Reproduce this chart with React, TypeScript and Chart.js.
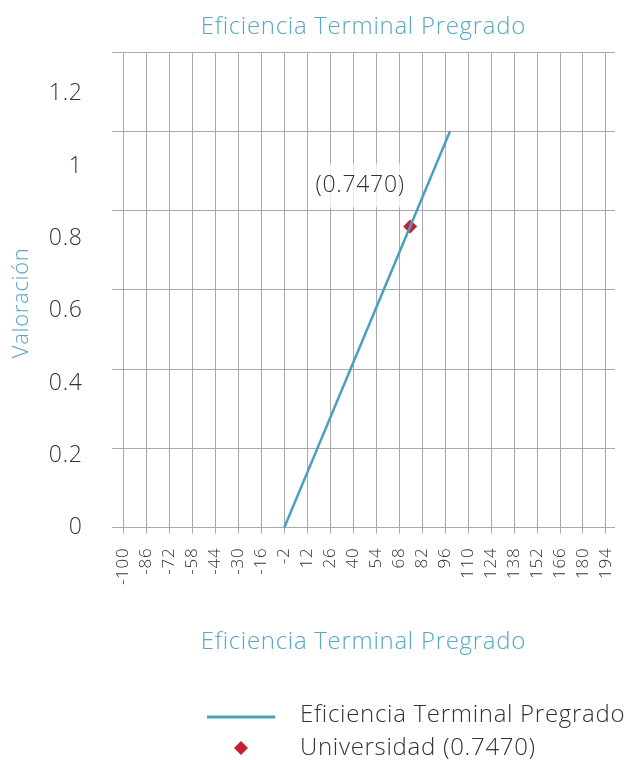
import React, { useEffect, useRef } from "react";
import { Chart, registerables } from "chart.js";

Chart.register(...registerables);

const CHART_TITLE = "Eficiencia Terminal Pregrado";
const X_TITLE = "Eficiencia Terminal Pregrado";
const Y_TITLE = "Valoración";
const X_TICKS = [-100, -86, -72, -58, -44, -30, -16, -2, 12, 26, 40, 54, 68, 82, 96, 110, 124, 138, 152, 166, 180, 194];
const Y_TICKS = [0, 0.2, 0.4, 0.6, 0.8, 1, 1.2];
const LINE_LABEL = "Eficiencia Terminal Pregrado";
const LINE_X = [-2, 99];
const LINE_Y = [0, 1];
const POINT_LABEL = "Universidad (0.7470)";
const POINT_X = [74.7];
const POINT_Y = [0.76];
const POINT_TAG = "(0.7470)";

const TEAL = "#4a9fbc";
const TITLE_TEAL = "#58a8c4";
const RED = "#c41f33";
const GRID = "#a9a9a9";
const TEXT = "#333333";
const FONT = "'Open Sans'";
const SPACING = "0.7px";

const spacingPlugin = {
  id: "spacing",
  beforeUpdate(chart: any) {
    chart.ctx.letterSpacing = SPACING;
  },
  beforeLayout(chart: any) {
    chart.ctx.letterSpacing = SPACING;
  },
  afterLayout(chart: any) {
    const s = chart.scales.yL;
    if (s) s.top += 26;
  },
  beforeDraw(chart: any) {
    chart.ctx.letterSpacing = SPACING;
  },
};

const overlayPlugin = {
  id: "overlay",
  afterDatasetsDraw(chart: any) {
    const ctx = chart.ctx;
    const meta = chart.getDatasetMeta(1);
    const pt = meta.data[0];
    if (!pt) return;
    ctx.save();
    ctx.font = `300 23px ${FONT}`;
    const w = ctx.measureText(POINT_TAG).width;
    const cx = pt.x - 50;
    const cy = pt.y - 41;
    ctx.fillStyle = "rgba(255,255,255,0.75)";
    ctx.fillRect(cx - w / 2 - 6, cy - 22, w + 12, 44);
    ctx.fillStyle = TEXT;
    ctx.textAlign = "center";
    ctx.textBaseline = "middle";
    ctx.fillText(POINT_TAG, cx, cy);
    ctx.restore();
  },
  afterDraw(chart: any) {
    const ctx = chart.ctx;
    const ds = chart.data.datasets;
    ctx.save();
    ctx.font = `300 24px ${FONT}`;
    ctx.fillStyle = TEXT;
    ctx.textAlign = "left";
    ctx.textBaseline = "middle";
    ctx.strokeStyle = ds[0].borderColor;
    ctx.lineWidth = 3;
    ctx.beginPath();
    ctx.moveTo(207, 717);
    ctx.lineTo(275, 717);
    ctx.stroke();
    ctx.fillText(ds[0].label, 300, 715);
    ctx.fillStyle = ds[1].backgroundColor;
    const dx = 241, dy = 748, r = 7;
    ctx.beginPath();
    ctx.moveTo(dx, dy - r);
    ctx.lineTo(dx + r, dy);
    ctx.lineTo(dx, dy + r);
    ctx.lineTo(dx - r, dy);
    ctx.closePath();
    ctx.fill();
    ctx.fillStyle = TEXT;
    ctx.fillText(ds[1].label, 300, 748);
    ctx.restore();
  },
};

export default function App() {
  const ref = useRef<HTMLCanvasElement | null>(null);

  useEffect(() => {
    document.body.style.margin = "0";
    const canvas = ref.current;
    if (!canvas) return;
    const chart = new Chart(canvas, {
      type: "line",
      data: {
        datasets: [
          {
            label: LINE_LABEL,
            data: LINE_X.map((x, i) => ({ x, y: LINE_Y[i] })),
            borderColor: TEAL,
            backgroundColor: TEAL,
            borderWidth: 2.5,
            pointRadius: 0,
            xAxisID: "x",
            yAxisID: "y",
          },
          {
            label: POINT_LABEL,
            data: POINT_X.map((x, i) => ({ x, y: POINT_Y[i] })),
            showLine: false,
            borderColor: RED,
            backgroundColor: RED,
            pointStyle: "rectRot",
            pointRadius: 7,
            pointBorderWidth: 0,
            xAxisID: "x",
            yAxisID: "y",
          },
        ],
      },
      options: {
        responsive: false,
        animation: false,
        layout: { padding: { left: 0, right: 14, top: 0, bottom: 100 } },
        plugins: {
          legend: { display: false },
          title: { display: false },
          tooltip: { enabled: false },
        },
        scales: {
          x: {
            type: "linear",
            position: "bottom",
            min: -107.07,
            max: 199.5,
            afterBuildTicks: (s: any) => {
              s.ticks = X_TICKS.map((v) => ({ value: v }));
            },
            afterFit: (s: any) => {
              s.height = 660 - 527.7;
              s.paddingLeft = 0;
              s.paddingRight = 0;
            },
            grid: { color: GRID, lineWidth: 1, drawTicks: true, tickLength: 6, tickColor: GRID },
            border: { display: false },
            ticks: {
              autoSkip: false,
              minRotation: 90,
              maxRotation: 90,
              padding: 14,
              color: TEXT,
              font: { family: FONT, size: 17, weight: "300" },
              callback: (v: any) => String(v),
            },
            title: {
              display: true,
              text: X_TITLE,
              color: TITLE_TEAL,
              font: { family: FONT, size: 24, weight: "300" },
              padding: { top: 0, bottom: 3 },
            },
          },
          xTop: {
            type: "linear",
            position: "top",
            min: -107.07,
            max: 199.5,
            afterFit: (s: any) => {
              s.height = 52;
              s.paddingLeft = 0;
              s.paddingRight = 0;
            },
            grid: { display: false, drawTicks: false },
            border: { display: false },
            ticks: { display: false },
            title: {
              display: true,
              text: CHART_TITLE,
              color: TITLE_TEAL,
              font: { family: FONT, size: 24, weight: "300" },
              padding: { top: 13, bottom: 0 },
            },
          },
          y: {
            type: "linear",
            position: "left",
            min: 0,
            max: 1.2,
            afterBuildTicks: (s: any) => {
              s.ticks = Y_TICKS.map((v) => ({ value: v }));
            },
            afterFit: (s: any) => {
              s.width = 0;
              s.paddingTop = 0;
              s.paddingBottom = 0;
            },
            grid: { color: GRID, lineWidth: 1, drawTicks: false },
            border: { display: false },
            ticks: { display: false },
          },
          yL: {
            type: "linear",
            position: "left",
            min: 0,
            max: 1.316,
            afterBuildTicks: (s: any) => {
              s.ticks = Y_TICKS.map((v) => ({ value: v }));
            },
            afterFit: (s: any) => {
              s.width = 111.7;
              s.paddingTop = 0;
              s.paddingBottom = 0;
            },
            grid: { display: false, drawTicks: false },
            border: { display: false },
            ticks: {
              padding: 29,
              color: TEXT,
              font: { family: FONT, size: 23, weight: "300" },
              callback: (v: any) => String(v),
            },
            title: {
              display: true,
              text: Y_TITLE,
              color: TITLE_TEAL,
              font: { family: FONT, size: 22, weight: "300" },
              padding: { top: 9, bottom: 0 },
            },
          },
        },
      },
      plugins: [spacingPlugin, overlayPlugin],
    } as any);
    return () => chart.destroy();
  }, []);

  return (
    <div style={{ width: 629, height: 760 }}>
      <canvas ref={ref} width={629} height={760} style={{ display: "block" }} />
    </div>
  );
}
